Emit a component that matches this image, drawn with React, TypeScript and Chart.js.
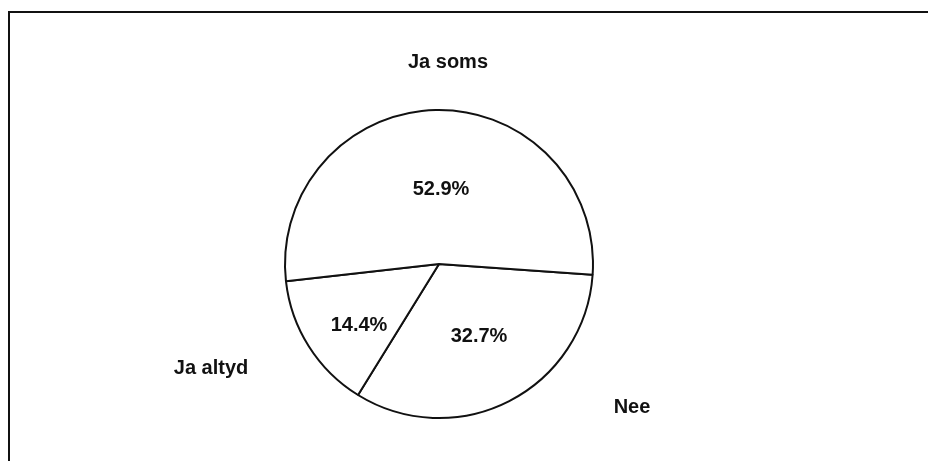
import React, { useEffect, useRef } from "react";
import { Chart, registerables } from "chart.js";

Chart.register(...registerables);

const categories = ["Nee", "Ja altyd", "Ja soms"];
const shares = [32.7, 14.4, 52.9];
const percentLabels = ["32.7%", "14.4%", "52.9%"];

// label offsets relative to the pie centre (text placement only)
const innerOffsets = [
  [40, 72],
  [-80, 61],
  [2, -75],
];
const outerOffsets = [
  [193, 143],
  [-228, 104],
  [9, -202],
];

const labelPlugin = {
  id: "pieLabels",
  afterDatasetsDraw(chart: any) {
    const meta = chart.getDatasetMeta(0);
    const arc = meta.data[0];
    if (!arc) return;
    const cx = arc.x;
    const cy = arc.y;
    const ctx = chart.ctx;
    ctx.save();
    ctx.fillStyle = "#111";
    ctx.textAlign = "center";
    ctx.textBaseline = "middle";
    ctx.font = "bold 20px 'Liberation Sans', Arial, sans-serif";
    categories.forEach((c, i) => {
      ctx.fillText(percentLabels[i], cx + innerOffsets[i][0], cy + innerOffsets[i][1]);
      ctx.fillText(c, cx + outerOffsets[i][0], cy + outerOffsets[i][1]);
    });
    ctx.restore();
  },
};

export default function App() {
  const ref = useRef<HTMLCanvasElement>(null);
  useEffect(() => {
    if (!ref.current) return;
    const chart = new Chart(ref.current, {
      type: "pie",
      data: {
        labels: categories,
        datasets: [
          {
            data: shares,
            backgroundColor: "#ffffff",
            borderColor: "#111111",
            borderWidth: 2,
          },
        ],
      },
      options: {
        responsive: false,
        animation: false,
        rotation: 94,
        layout: { padding: { left: 284, right: 334, top: 107, bottom: 40 } },
        plugins: {
          legend: { display: false },
          tooltip: { enabled: false },
        },
      },
      plugins: [labelPlugin],
    });
    return () => chart.destroy();
  }, []);
  return (
    <div style={{ position: "absolute", left: 0, top: 0, width: 928, height: 461, background: "#fff", overflow: "hidden" }}>
      <div
        style={{
          position: "absolute",
          left: 8,
          top: 11,
          width: 930,
          height: 460,
          borderTop: "2px solid #111",
          borderLeft: "2px solid #111",
        }}
      />
      <canvas ref={ref} width={928} height={461} style={{ position: "absolute", left: 0, top: 0 }} />
    </div>
  );
}
